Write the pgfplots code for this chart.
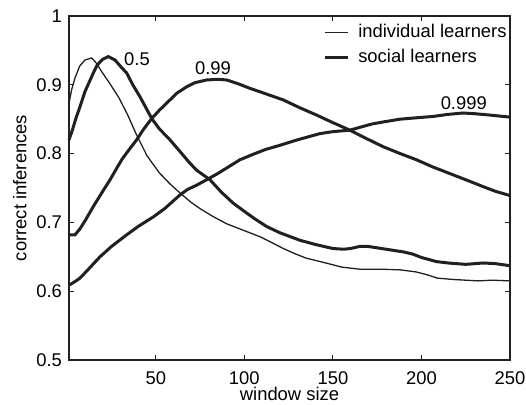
\documentclass[border=0pt]{standalone}
\usepackage{fontspec}
\setmainfont{Liberation Sans}
\usepackage{pgfplots}
\pgfplotsset{compat=1.18}
\definecolor{ink}{HTML}{231F20}
\begin{document}
\begin{tikzpicture}[font=\fontsize{9.2}{11}\selectfont]
\begin{axis}[
 scale only axis,width=220.5pt,height=172pt,
 xmin=1,xmax=250,ymin=0.5,ymax=1,
 xtick={50,100,150,200,250},
 ytick={0.5,0.6,0.7,0.8,0.9,1},
 tick align=inside,major tick length=2.5pt,
 axis line style={line width=0.8pt,ink},
 every tick/.style={line width=0.6pt,ink},
 /pgf/number format/assume math mode=true,
 xticklabel style={inner xsep=0pt,yshift=-2.5pt},
 xlabel={window size},ylabel={correct inferences},
 xlabel style={at={(axis description cs:0.5,-0.099)},anchor=center,inner sep=0pt},
 ylabel style={yshift=-2pt},
 legend style={draw=none,fill=none,at={(1,1)},anchor=north east,
   xshift=2.5pt,yshift=-1pt,row sep=2.1pt,nodes={inner sep=1pt}},
 legend cell align=left,
 legend image code/.code={\draw[#1] (0pt,0pt) -- (11.5pt,0pt); \path (15pt,0pt);},
 clip=false]
% individual learners, 0.5
\addplot[ink,line width=0.65pt] coordinates {
 (1,0.873) (2.5,0.893) (4.4,0.910) (7,0.927) (10,0.936) (13.8,0.939)
 (16.6,0.931) (19.5,0.919) (24,0.902) (29,0.882) (34,0.857) (39,0.828)
 (45,0.797) (52,0.772) (58,0.756) (64,0.742) (70,0.729) (75,0.720)
 (82,0.709) (90,0.698) (94,0.694) (100,0.688) (109,0.679) (116,0.670)
 (122,0.662) (129,0.654) (135,0.648) (146,0.641) (155,0.635) (165,0.632)
 (177,0.632) (188,0.631) (197,0.628) (203,0.624) (209,0.619) (218,0.617)
 (225,0.616) (232,0.615) (240,0.616) (250,0.615)};
\addlegendentry{individual learners}
% social learners, 0.5
\addplot[ink,line width=1.5pt] coordinates {
 (1,0.820) (3,0.835) (5,0.852) (7.2,0.868) (10,0.890) (14.7,0.917)
 (17,0.929) (20,0.937) (23.2,0.941) (27,0.936) (30,0.927) (33.6,0.917)
 (37,0.900) (41,0.883) (47.7,0.851) (52,0.836) (58,0.820) (64,0.802)
 (69.3,0.786) (73,0.776) (80.6,0.762) (87,0.744) (93.7,0.728) (100,0.716)
 (106,0.705) (112.6,0.694) (120,0.685) (131.4,0.674) (140,0.668) (150,0.662)
 (156,0.661) (160,0.662) (165,0.665) (170,0.665) (180,0.661) (190,0.657)
 (195,0.654) (200,0.649) (208.5,0.643) (215,0.641) (225,0.639) (230,0.640)
 (235,0.641) (242,0.640) (250,0.637)};
\addlegendentry{social learners}
% social learners, 0.99
\addplot[ink,line width=1.5pt,forget plot] coordinates {
 (1,0.682) (4.4,0.682) (7,0.690) (10,0.702) (14.7,0.723) (20,0.745)
 (24.2,0.762) (28,0.779) (31,0.792) (35,0.806) (39.2,0.820) (43,0.835)
 (47.7,0.851) (52,0.863) (58,0.878) (62,0.888) (67.4,0.897) (72,0.903)
 (78.7,0.907) (85,0.908) (90,0.907) (96,0.902) (103,0.895) (112,0.887)
 (122,0.878) (131,0.867) (140.8,0.856) (150,0.845) (159.6,0.834) (168,0.823)
 (178.4,0.810) (188,0.800) (197.2,0.791) (206,0.781) (216,0.771) (225,0.762)
 (234.8,0.752) (242,0.745) (250,0.739)};
% social learners, 0.999
\addplot[ink,line width=1.5pt,forget plot] coordinates {
 (1,0.609) (2.5,0.611) (5,0.615) (7.2,0.619) (12,0.632) (18.5,0.650)
 (25,0.665) (33.6,0.682) (40,0.694) (48.6,0.708) (55,0.720) (63.7,0.740)
 (68,0.748) (73,0.754) (78.7,0.762) (85,0.771) (90,0.779) (97.5,0.791)
 (105,0.799) (112,0.806) (120,0.812) (130,0.820) (142.6,0.829) (150.2,0.832)
 (155,0.833) (159.6,0.834) (165,0.838) (172,0.843) (178.4,0.846) (187.8,0.850)
 (197,0.852) (206.6,0.854) (215,0.857) (223.5,0.859) (230,0.858) (238.6,0.856)
 (250,0.853)};
\node at (axis cs:39.4,0.9375) {0.5};
\node at (axis cs:82.3,0.924) {0.99};
\node at (axis cs:223.9,0.874) {0.999};
\end{axis}
\path ([shift={(-34.5pt,-22.5pt)}]current axis.south west)
 rectangle ([shift={(8pt,8pt)}]current axis.north east);
\end{tikzpicture}
\end{document}
